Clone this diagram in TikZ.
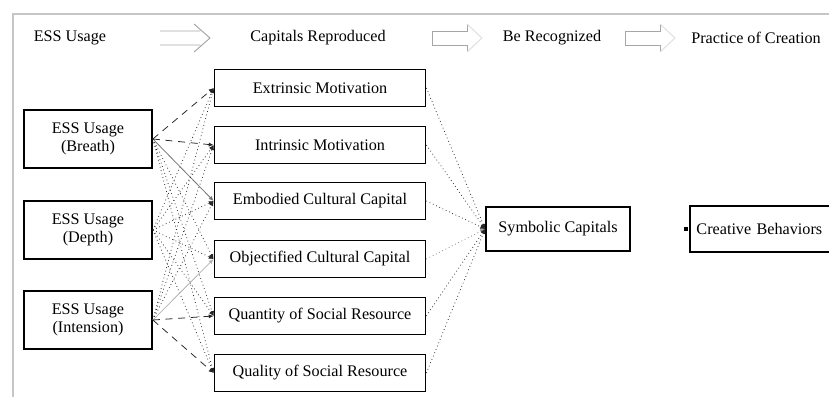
\documentclass[tikz,border=0pt]{standalone}
\usepackage{fontspec}
\setmainfont{Liberation Serif}
\usetikzlibrary{arrows.meta, positioning}

\begin{document}
\begin{tikzpicture}[x=0.025cm, y=-0.025cm,
    box/.style={draw, line width=1.2pt, align=center,
      font=\fontsize{11.5}{13}\selectfont, inner sep=2pt},
    usagebox/.style={box, minimum width=3.2cm, minimum height=1.45cm},
    capbox/.style={box, minimum width=5.275cm, minimum height=0.925cm},
    endbox/.style={box, minimum width=3.6cm, minimum height=1.1cm},
    header/.style={font=\fontsize{11.5}{13}\selectfont, inner sep=0pt},
    headarrow/.style={gray!70, line width=0.7pt},
    headtip/.style={gray!25, line width=0.7pt},
    link/.style={-{Latex[length=3.5pt, width=3pt]}, line width=0.55pt, black!85},
    dotlink/.style={link, dotted},
    dashlink/.style={link, dash pattern=on 5pt off 4pt},
    greylink/.style={link, black!30},
    frame/.style={gray!45, line width=0.9pt},
]
\useasboundingbox (0,0) rectangle (829,397);
\clip (0,0) rectangle (829,397);
% Frame
\draw[frame] (13,397) -- (13,14) -- (829,14);
% Header
\node[header] (hdusage) at (70,38) {ESS Usage};
\node[header] (hdcapitals) at (318,38) {Capitals Reproduced};
\node[header] (hdrecognized) at (552,38) {Be Recognized};
\node[header] (hdpractice) at (756,38) {Practice of Creation};
\draw[headarrow] (160,31) -- (200,31) (160,45) -- (200,45)
    (194,24) -- (210,38) -- (194,52);
\draw[headarrow] (467,24) -- (467,31) -- (432,31)
    -- (432,45) -- (467,45) -- (467,52);
\draw[headtip] (467,24) -- (482,38) -- (467,52);
\draw[headarrow] (660,24) -- (660,31) -- (625,31)
    -- (625,45) -- (660,45) -- (660,52);
\draw[headtip] (660,24) -- (675,38) -- (660,52);
% Nodes
\node[usagebox] (essbreath) at (88,139) {ESS Usage\\(Breath)};
\node[usagebox] (essdepth) at (88,230) {ESS Usage\\(Depth)};
\node[usagebox] (essintension) at (88,320) {ESS Usage\\(Intension)};
\node[capbox] (extrinsic) at (320,88) {Extrinsic Motivation};
\node[capbox] (intrinsic) at (320,145) {Intrinsic Motivation};
\node[capbox] (embodied) at (320,201) {Embodied Cultural Capital};
\node[capbox] (objectified) at (320,259) {Objectified Cultural Capital};
\node[capbox] (quantity) at (320,316) {Quantity of Social Resource};
\node[capbox] (quality) at (320,373) {Quality of Social Resource};
\node[endbox] (symbolic) at (558,229) {Symbolic Capitals};
% box runs past the right edge of the page
\node[box, draw=none, anchor=west, text width=3.9cm, align=left, inner xsep=4pt,
    minimum height=1.1cm] (creative) at (690,229) {Creative Behaviors};
\draw[line width=1.2pt] (creative.north east) -- (creative.north west)
    -- (creative.south west) -- (creative.south east);
\node[fill, inner sep=0pt, minimum size=2.5pt, left=1.5pt of creative] (creativetip) {};
% Arrows
\draw[dashlink] (essbreath.east) -- (extrinsic.west);
\draw[dashlink] (essbreath.east) -- (intrinsic.west);
\draw[link, black!55] (essbreath.east) -- (embodied.west);
\draw[dotlink] (essbreath.east) -- (objectified.west);
\draw[dotlink] (essbreath.east) -- (quantity.west);
\draw[dotlink] (essbreath.east) -- (quality.west);
\draw[dotlink] (essdepth.east) -- (extrinsic.west);
\draw[dotlink] (essdepth.east) -- (intrinsic.west);
\draw[dotlink] (essdepth.east) -- (embodied.west);
\draw[dotlink] (essdepth.east) -- (objectified.west);
\draw[dotlink] (essdepth.east) -- (quantity.west);
\draw[dotlink] (essdepth.east) -- (quality.west);
\draw[dotlink] (essintension.east) -- (extrinsic.west);
\draw[dotlink] (essintension.east) -- (intrinsic.west);
\draw[dotlink] (essintension.east) -- (embodied.west);
\draw[greylink] (essintension.east) -- (objectified.west);
\draw[dashlink] (essintension.east) -- (quantity.west);
\draw[dashlink] (essintension.east) -- (quality.west);
\draw[dotlink] (extrinsic.east) -- (symbolic.west);
\draw[dotlink] (intrinsic.east) -- (symbolic.west);
\draw[dotlink] (embodied.east) -- (symbolic.west);
\draw[dotlink, black!50] (objectified.east) -- (symbolic.west);
\draw[dotlink] (quantity.east) -- (symbolic.west);
\draw[dotlink] (quality.east) -- (symbolic.west);
\end{tikzpicture}
\end{document}
